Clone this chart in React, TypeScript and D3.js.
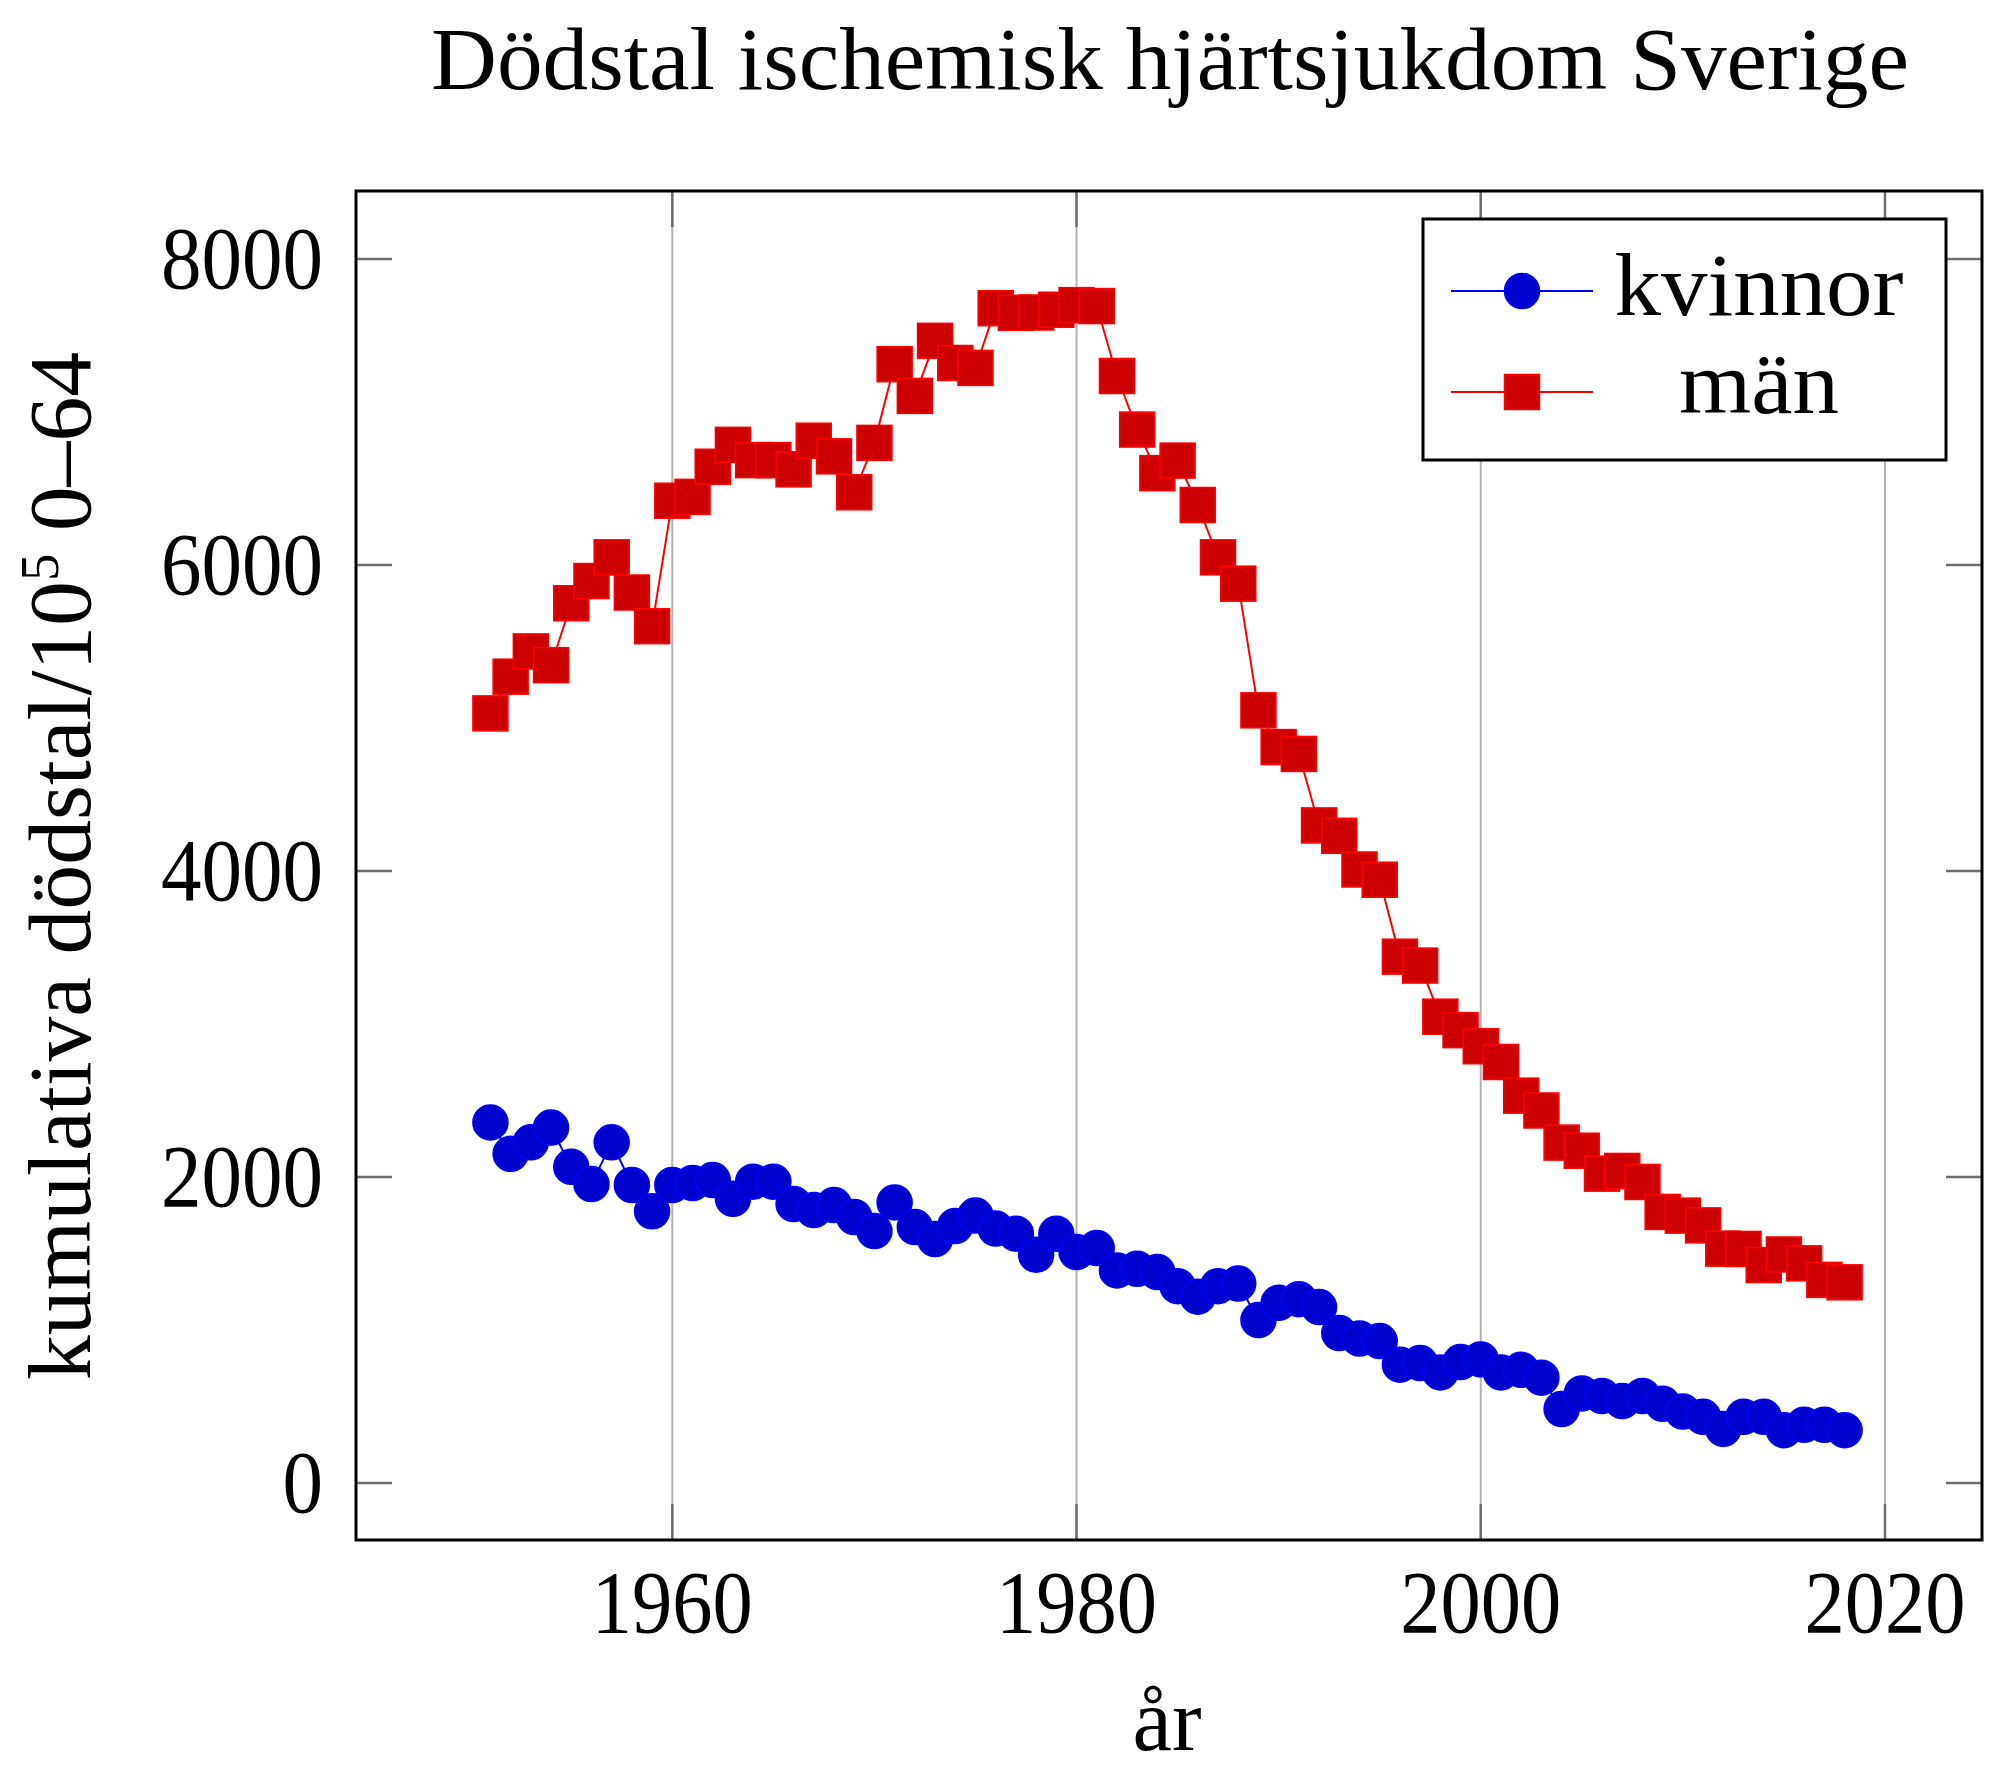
import React from "react";
import * as d3 from "d3";

const years = [
  1951, 1952, 1953, 1954, 1955, 1956, 1957, 1958, 1959, 1960,
  1961, 1962, 1963, 1964, 1965, 1966, 1967, 1968, 1969, 1970,
  1971, 1972, 1973, 1974, 1975, 1976, 1977, 1978, 1979, 1980,
  1981, 1982, 1983, 1984, 1985, 1986, 1987, 1988, 1989, 1990,
  1991, 1992, 1993, 1994, 1995, 1996, 1997, 1998, 1999, 2000,
  2001, 2002, 2003, 2004, 2005, 2006, 2007, 2008, 2009, 2010,
  2011, 2012, 2013, 2014, 2015, 2016, 2017, 2018,
];

const kvinnor = [
  2357, 2152, 2227, 2323, 2067, 1954, 2227, 1948, 1776, 1948,
  1961, 1980, 1858, 1970, 1970, 1824, 1784, 1817, 1739, 1647,
  1834, 1673, 1595, 1680, 1748, 1663, 1630, 1492, 1629, 1510,
  1536, 1390, 1400, 1379, 1287, 1218, 1287, 1304, 1065, 1178,
  1202, 1150, 980, 945, 928, 774, 784, 723, 791, 808,
  723, 740, 689, 484, 586, 569, 536, 569, 518, 467,
  433, 354, 433, 433, 346, 381, 381, 346,
];

const man = [
  5030, 5270, 5435, 5345, 5750, 5895, 6050, 5820, 5600, 6420,
  6445, 6642, 6785, 6685, 6685, 6625, 6812, 6710, 6475, 6798,
  7312, 7105, 7465, 7320, 7288, 7678, 7648, 7650, 7668, 7698,
  7692, 7235, 6885, 6600, 6682, 6392, 6050, 5878, 5050, 4810,
  4765, 4298, 4230, 4010, 3943, 3440, 3382, 3048, 2960, 2855,
  2752, 2532, 2435, 2225, 2172, 2022, 2040, 1968, 1772, 1748,
  1684, 1532, 1530, 1425, 1494, 1436, 1328, 1312,
];

const xTicks = [1960, 1980, 2000, 2020];
const yTicks = [0, 2000, 4000, 6000, 8000];

const seriesNames = ["kvinnor", "män"];

const FONT = "'Liberation Serif', 'DejaVu Serif', serif";

export default function App() {
  const W = 2000;
  const H = 1779;
  const left = 356, right = 1982, top = 191, bottom = 1540;

  const x = d3.scaleLinear().domain([1944.35, 2024.8]).range([left, right]);
  const y = d3.scaleLinear().domain([-372, 8444]).range([bottom, top]);

  const line = d3
    .line<number>()
    .x((_, i) => x(years[i]))
    .y((d) => y(d));

  const tickLen = 36;
  const sq = 35;
  const r = 17.5;

  const blueFill = "#0000cc", blueStroke = "#0000ff";
  const redFill = "#cc0000", redStroke = "#ff0000";

  const legX0 = 1423, legX1 = 1946, legY0 = 219, legY1 = 460;
  const rowY = [291, 392];
  const textBase = [315, 413];

  return (
    <svg
      width={W}
      height={H}
      viewBox={`0 0 ${W} ${H}`}
      style={{ position: "absolute", left: 0, top: 0, background: "#fff" }}
      fontFamily={FONT}
    >
      <rect x={0} y={0} width={W} height={H} fill="#fff" />
      {/* title */}
      <text
        x={1170}
        y={89}
        fontSize={88}
        textAnchor="middle"
        textLength={1478}
        lengthAdjust="spacingAndGlyphs"
      >
        Dödstal ischemisk hjärtsjukdom Sverige
      </text>

      {/* grid */}
      {xTicks.map((t) => (
        <line key={"g" + t} x1={x(t)} x2={x(t)} y1={top} y2={bottom} stroke="#b3b3b3" strokeWidth={2} />
      ))}
      {/* ticks */}
      {xTicks.map((t) => (
        <g key={"xt" + t} stroke="#6e6e6e" strokeWidth={2.5}>
          <line x1={x(t)} x2={x(t)} y1={bottom} y2={bottom - tickLen} />
          <line x1={x(t)} x2={x(t)} y1={top} y2={top + tickLen} />
        </g>
      ))}
      {yTicks.map((t) => (
        <g key={"yt" + t} stroke="#6e6e6e" strokeWidth={2.5}>
          <line x1={left} x2={left + tickLen} y1={y(t)} y2={y(t)} />
          <line x1={right} x2={right - tickLen} y1={y(t)} y2={y(t)} />
        </g>
      ))}

      {/* kvinnor */}
      <path d={line(kvinnor) || ""} fill="none" stroke={blueStroke} strokeWidth={2} />
      {kvinnor.map((v, i) => (
        <circle key={"k" + i} cx={x(years[i])} cy={y(v)} r={r} fill={blueFill} stroke={blueStroke} strokeWidth={1.5} />
      ))}

      {/* män */}
      <path d={line(man) || ""} fill="none" stroke={redStroke} strokeWidth={2} />
      {man.map((v, i) => (
        <rect
          key={"m" + i}
          x={x(years[i]) - sq / 2}
          y={y(v) - sq / 2}
          width={sq}
          height={sq}
          fill={redFill}
          stroke={redStroke}
          strokeWidth={1.5}
        />
      ))}

      {/* frame */}
      <rect x={left} y={top} width={right - left} height={bottom - top} fill="none" stroke="#000" strokeWidth={3} />

      {/* y tick labels */}
      {yTicks.map((t) => (
        <text
          key={"yl" + t}
          x={323}
          y={y(t) + 29}
          fontSize={88}
          textAnchor="end"
          textLength={String(t).length * 40.5}
          lengthAdjust="spacingAndGlyphs"
        >
          {String(t)}
        </text>
      ))}
      {/* x tick labels */}
      {xTicks.map((t) => (
        <text
          key={"xl" + t}
          x={x(t)}
          y={1632}
          fontSize={88}
          textAnchor="middle"
          textLength={161}
          lengthAdjust="spacingAndGlyphs"
        >
          {String(t)}
        </text>
      ))}

      {/* axis labels */}
      <text x={1167} y={1750} fontSize={88} textAnchor="middle" textLength={69} lengthAdjust="spacingAndGlyphs">
        år
      </text>
      <g transform="translate(90,866) rotate(-90)">
        <text x={0} y={0} fontSize={88} textAnchor="middle" textLength={1028} lengthAdjust="spacingAndGlyphs">
          kumulativa dödstal/10
          <tspan fontSize={54} dy={-32}>5</tspan>
          <tspan dy={32}> 0–64</tspan>
        </text>
      </g>

      {/* legend */}
      <rect x={legX0} y={legY0} width={legX1 - legX0} height={legY1 - legY0} fill="#fff" stroke="#000" strokeWidth={3} />
      <line x1={1451} x2={1593} y1={rowY[0]} y2={rowY[0]} stroke={blueStroke} strokeWidth={2} />
      <circle cx={1522} cy={rowY[0]} r={r} fill={blueFill} stroke={blueStroke} strokeWidth={1.5} />
      <line x1={1451} x2={1593} y1={rowY[1]} y2={rowY[1]} stroke={redStroke} strokeWidth={2} />
      <rect x={1522 - sq / 2} y={rowY[1] - sq / 2} width={sq} height={sq} fill={redFill} stroke={redStroke} strokeWidth={1.5} />
      <text x={1759} y={textBase[0]} fontSize={88} textAnchor="middle" textLength={289} lengthAdjust="spacingAndGlyphs">
        {seriesNames[0]}
      </text>
      <text x={1759} y={textBase[1]} fontSize={88} textAnchor="middle" textLength={160} lengthAdjust="spacingAndGlyphs">
        {seriesNames[1]}
      </text>
    </svg>
  );
}
